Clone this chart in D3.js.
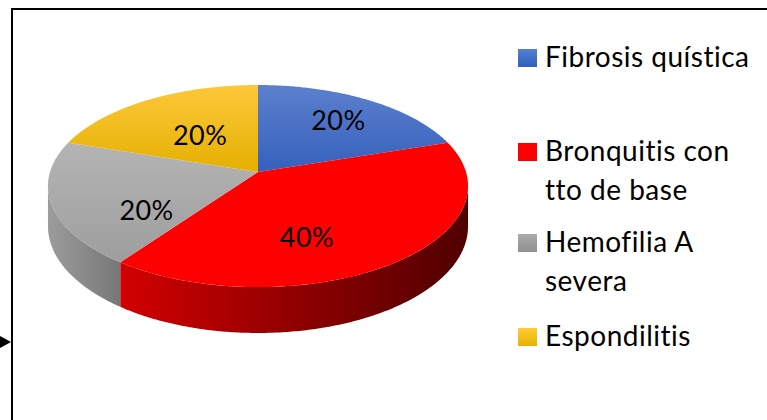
<!DOCTYPE html>
<html>
<head>
<meta charset="utf-8">
<script src="https://cdn.jsdelivr.net/npm/d3@7"></script>
<style>
body{margin:0;background:#fff;}
svg{display:block;font-family:Lato,"Open Sans",sans-serif;font-variant-ligatures:none;}
</style>
</head>
<body>
<svg id="chart" width="767" height="420"></svg>
<script>
// data
let categories = ["Fibrosis quística", "Bronquitis con tto de base", "Hemofilia A severa", "Espondilitis"];
let legendLines = [["Fibrosis quística"], ["Bronquitis con", "tto de base"], ["Hemofilia A", "severa"], ["Espondilitis"]];
let values = [20, 40, 20, 20];
let labels = ["20%", "40%", "20%", "20%"];

let svg = d3.select("#chart");

// frame + little arrow on the left
svg.append("rect").attr("x", 12).attr("y", 9).attr("width", 780).attr("height", 440)
    .attr("fill", "none").attr("stroke", "#000").attr("stroke-width", 2);
svg.append("path").attr("d", "M0,336L11,342L0,348Z").attr("fill", "#000");

// colours (top face gradient: top, bottom) (side gradient: left, right)
let topCols = [["#5c80cd", "#3560bc"], ["#ff0000", "#ff0000"], ["#b4b4b4", "#9e9e9e"], ["#fdc83a", "#e4b000"]];
let sideCols = [["#2f55a5", "#2a4a90"], ["#d20000", "#4f0000"], ["#9c9c9c", "#777777"], ["#d0a000", "#b08800"]];
let legCols = [["#5580d0", "#3060bd"], ["#ff0000", "#ff0000"], ["#ababab", "#8f8f8f"], ["#ffcc35", "#e6b200"]];

// perspective pie geometry
let cx = 258, cy = 172, rx = 208, ry = 99.1, k = 0.139, depth = 39.5;
function proj(theta, f, dy) {
    let u = Math.sin(theta) * f, v = Math.cos(theta) * f;
    let s = 1 / (1 + k * v);
    return [cx + rx * u * s, cy - ry * v * s + (dy || 0) * s];
}

let pie = d3.pie().sort(null).value(d => d);
let arcs = pie(values);

let defs = svg.append("defs");
arcs.forEach((a, i) => {
    let g1 = defs.append("linearGradient").attr("id", "top" + i).attr("x1", 0).attr("y1", 0).attr("x2", 0).attr("y2", 1);
    g1.append("stop").attr("offset", "0%").attr("stop-color", topCols[i][0]);
    g1.append("stop").attr("offset", "100%").attr("stop-color", topCols[i][1]);
    let g2 = defs.append("linearGradient").attr("id", "side" + i).attr("x1", 0).attr("y1", 0).attr("x2", 1).attr("y2", 0);
    g2.append("stop").attr("offset", "0%").attr("stop-color", sideCols[i][0]);
    g2.append("stop").attr("offset", "100%").attr("stop-color", sideCols[i][1]);
    let g3 = defs.append("linearGradient").attr("id", "leg" + i).attr("x1", 0).attr("y1", 0).attr("x2", 0).attr("y2", 1);
    g3.append("stop").attr("offset", "0%").attr("stop-color", legCols[i][0]);
    g3.append("stop").attr("offset", "100%").attr("stop-color", legCols[i][1]);
});

// visible range of the rim (between the right and left silhouette points)
let thR = d3.range(0, Math.PI, 0.001).reduce((b, t) => proj(t, 1)[0] > proj(b, 1)[0] ? t : b, 0);
let thL = d3.range(Math.PI, 2 * Math.PI, 0.001).reduce((b, t) => proj(t, 1)[0] < proj(b, 1)[0] ? t : b, Math.PI);

let line = d3.line();
let sides = svg.append("g");
arcs.forEach((a, i) => {
    let t0 = Math.max(a.startAngle, thR), t1 = Math.min(a.endAngle, thL);
    if (t1 <= t0) return;
    let ts = d3.range(t0, t1, 0.01).concat([t1]);
    let pts = ts.map(t => proj(t, 1, 0)).concat(ts.slice().reverse().map(t => proj(t, 1, depth)));
    sides.append("path").attr("d", line(pts) + "Z").attr("fill", "url(#side" + i + ")");
});

let tops = svg.append("g");
arcs.forEach((a, i) => {
    let ts = d3.range(a.startAngle, a.endAngle, 0.01).concat([a.endAngle]);
    let pts = [proj(0, 0)].concat(ts.map(t => proj(t, 1)));
    tops.append("path").attr("d", line(pts) + "Z").attr("fill", "url(#top" + i + ")");
});

// data labels
let labFrac = [0.71, 0.45, 0.56, 0.5];
let labShift = [[0, 0], [-9, 26], [2, 20], [0, 0]];
svg.append("g").selectAll("text").data(arcs).enter().append("text")
    .attr("x", (d, i) => proj((d.startAngle + d.endAngle) / 2, labFrac[i])[0] + labShift[i][0])
    .attr("y", (d, i) => proj((d.startAngle + d.endAngle) / 2, labFrac[i])[1] + labShift[i][1])
    .attr("text-anchor", "middle").attr("dominant-baseline", "central")
    .attr("font-size", 27).attr("letter-spacing", 0.4).attr("fill", "#000")
    .text((d, i) => labels[i]);

// legend
let legTop = [49, 143, 234, 328];
let leg = svg.append("g");
categories.forEach((c, i) => {
    leg.append("rect").attr("x", 518).attr("y", legTop[i]).attr("width", 19).attr("height", 18)
        .attr("fill", "url(#leg" + i + ")");
    let t = leg.append("text").attr("x", 545).attr("y", legTop[i] + 18).attr("font-size", 28)
        .attr("letter-spacing", 0.5).attr("fill", "#000");
    legendLines[i].forEach((ln, j) => {
        t.append("tspan").attr("x", 545).attr("dy", j === 0 ? 0 : 39).text(ln);
    });
});
</script>
</body>
</html>
